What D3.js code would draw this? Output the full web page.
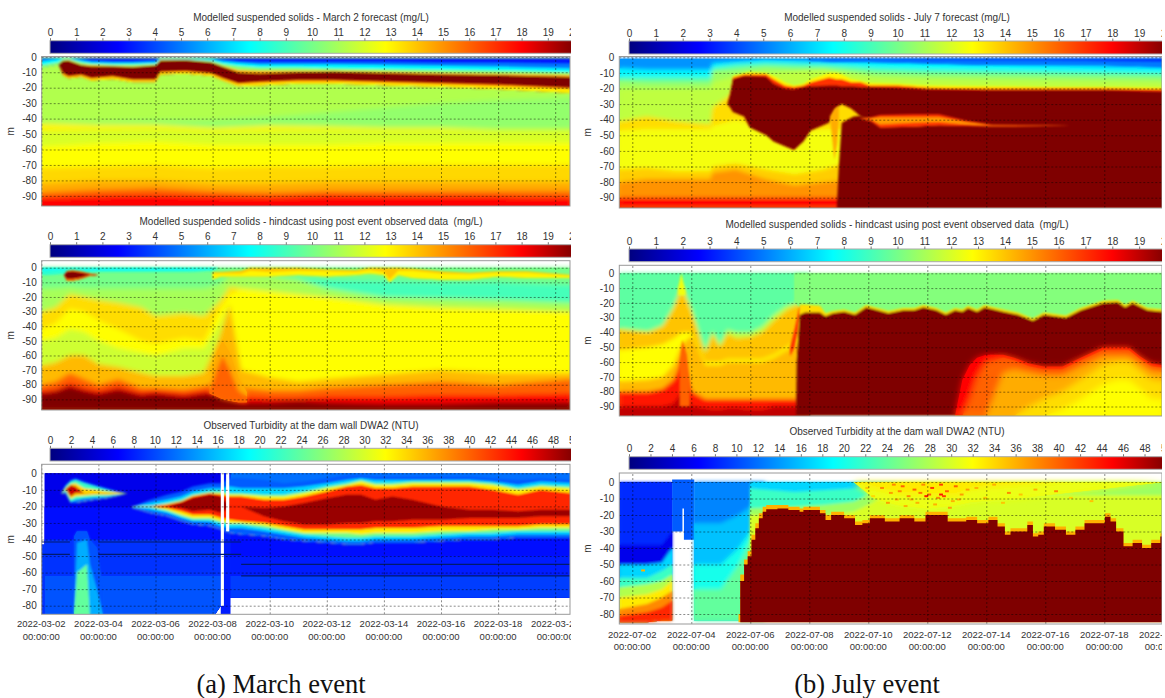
<!DOCTYPE html>
<html>
<head>
<meta charset="utf-8">
<script src="https://cdn.jsdelivr.net/npm/d3@7"></script>
<style>
  html, body { margin: 0; padding: 0; background: #fff; overflow: hidden; }
  svg { display: block; }
  text { font-family: "Liberation Sans", Arial, sans-serif; fill: #333; white-space: pre; }
  .caption { font-family: "Liberation Serif", "Times New Roman", serif; font-size: 26.5px; fill: #111; }
</style>
</head>
<body>
<svg></svg>
<script>
// all depths are metres below the surface, days count from the first tick of each event

let marchStart = "2022-03-02";
let julyStart = "2022-07-02";
let solidsTicks = d3.range(0, 21, 1);
let turbidityTicks = d3.range(0, 51, 2);
let depthTicksModel = [0, 10, 20, 30, 40, 50, 60, 70, 80, 90];
let depthTicksObserved = [0, 10, 20, 30, 40, 50, 60, 70, 80];
let dateTicks = [0, 2, 4, 6, 8, 10, 12, 14, 16, 18];

// ---- March forecast
let a1BodyDays = [0, 2, 4, 6, 8, 10, 12, 14, 16, 18.6];
let a1BodyLevels = [11.2, 10.6, 13, 12, 12.8, 13.6, 14.5, 16, 18];
let a1BodyEdges = [
  [1, 1, 1, 1, 1, 1, 1, 1, 1, 1],
  [42, 42, 41, 41, 39, 36, 33, 30, 28, 26],
  [43, 44, 44, 46, 44.5, 45, 46, 46, 47, 47],
  [48, 47, 46.5, 48, 47.5, 47, 47.5, 47.5, 47.5, 47.5],
  [58, 56, 55, 57, 57, 57, 56, 56, 56, 56],
  [72, 71, 70, 72, 71, 71, 70, 70, 70, 70],
  [82, 80, 80, 82, 82, 81, 81, 81, 81, 81],
  [88, 86, 85, 87, 88, 87, 87, 87, 87, 87],
  [91, 90, 89.5, 90.5, 91, 90, 90.5, 90.5, 90.5, 91],
  [96.5, 96.5, 96.5, 96.5, 96.5, 96.5, 96.5, 96.5, 96.5, 96.5]
];
let a1PlumeDays = [0, 0.6, 0.75, 0.95, 1.4, 1.75, 2.5, 3.2, 4, 4.17, 5.05, 5.95, 6.35, 6.9, 7.65, 8.95, 10.25, 12.2, 14.1, 16.1, 18.6];
let a1PlumeLevels = [3, 5, 7.5, 10.5, 14.5, 20, 16, 13];
let a1PlumeEdges = [
  [1, 1, 1, 1, 1, 1, 1, 1, 1, 1, 1, 1, 1, 1, 1, 1, 1, 1, 1, 1, 1],
  [1, 1, 1, 1, 1.5, 2.5, 3, 3, 2.5, 1, 1, 1.2, 2, 3, 3.5, 3.5, 3.5, 3.5, 4, 4, 4.5],
  [3, 1.5, 1, 1, 2.5, 3.5, 4, 4, 3.5, 1.2, 1.2, 1.6, 3, 4, 5, 5, 5, 5.5, 6, 6.5, 7.5],
  [5.5, 3.5, 1.5, 1.2, 3.5, 4.5, 5, 5, 4.5, 1.5, 1.5, 2.5, 4.5, 6, 7, 7, 7.5, 8, 8.5, 9, 10],
  [7, 5, 2.5, 2, 5, 5.5, 5.8, 6.3, 5.3, 2.2, 2, 3.3, 6, 8.5, 9, 9, 9, 9.7, 10.5, 11, 11.8],
  [7, 5, 2.7, 2.5, 5.5, 6.2, 6.2, 6.8, 5.7, 2.5, 2.3, 3.7, 6.5, 10.2, 10.8, 10, 9.6, 10.6, 11.5, 12, 13],
  [7, 5, 10.5, 12.5, 11.5, 13.5, 12.5, 14.5, 14.5, 9.5, 9, 10.5, 13.5, 17, 16, 15, 15, 16, 17, 18, 20],
  [7, 5, 11.2, 13.2, 12.2, 14.3, 13.3, 15.3, 15.3, 10.3, 9.8, 11.3, 14.3, 17.8, 17, 16, 16, 17, 18, 19, 21],
  [7, 5, 12, 14, 13, 15.5, 14.5, 16.5, 16.5, 11.5, 11, 12.5, 15.5, 19, 18.5, 17.5, 17.5, 18.5, 19.5, 21, 23.5]
];

// ---- March hindcast
let a2BodyDays = [0, 0.5, 1, 1.5, 2, 2.7, 3.5, 4, 5, 5.7, 6.2, 6.6, 7, 8, 9, 10, 12, 14, 16, 18.6];
let a2BodyLevels = [10, 9, 11, 13.5, 12.8, 11.8, 14.2, 16, 18, 20];
let a2BodyEdges = [
  [0, 0, 0, 0, 0, 0, 0, 0, 0, 0, 0, 0, 0, 0, 0, 0, 0, 0, 0, 0],
  [14, 14, 13, 14, 14, 14, 14, 14, 14, 14, 12, 5, 5, 6, 7, 8, 9, 10, 10, 12],
  [14, 14, 13, 14, 14, 14, 14, 14, 14, 14, 12, 5, 5, 6, 8, 14, 20, 21, 22, 24],
  [30, 27, 18, 20, 22, 24, 27, 33, 31, 33, 24, 13, 14, 16, 18, 20, 25, 27, 28, 30],
  [42, 38, 28, 30, 36, 42, 50, 52, 48, 50, 30, 18, 14.5, 16.5, 18.5, 20.5, 25.5, 27.5, 28.5, 30.5],
  [50, 48, 42, 44, 50, 55, 58, 60, 55, 55, 40, 25, 70, 75, 78, 76, 73, 70, 72, 72],
  [67, 65, 60, 60, 66, 68, 72, 74, 74, 72, 50, 25, 70, 75, 78, 76, 73, 70, 72, 72],
  [80, 78, 72, 76, 80, 76, 82, 82, 83, 81, 78, 74, 82, 84, 84, 82, 80, 78, 80, 76],
  [84, 83, 79, 82, 84, 81, 85, 84, 86, 84, 84, 84, 88, 89, 89, 88, 88, 87, 87, 86],
  [86, 84.5, 81, 84, 86, 83, 87, 86, 88, 86, 86, 88, 92, 92, 91, 92, 93, 93, 92, 92],
  [97, 97, 97, 97, 97, 97, 97, 97, 97, 97, 97, 97, 97, 97, 97, 97, 97, 97, 97, 97]
];
let a2SpikeDays = [5.9, 6.15, 6.35, 6.6, 6.9, 7.2];
let a2SpikeLevels = [14.5, 16];
let a2SpikeEdges = [
  [80, 58, 50, 58, 75, 85],
  [84, 70, 60, 70, 84, 88],
  [86, 88, 90, 91, 92, 92]
];
let a2BlobDays = [0.8, 0.9, 1.1, 1.4, 1.7, 2];
let a2BlobLevels = [14.5, 18, 20, 18, 14.5];
let a2BlobEdges = [
  [5, 2, 1.5, 2.5, 4, 5],
  [5, 2.5, 2, 3, 4.2, 5],
  [5, 3, 2.5, 3.5, 4.4, 5],
  [5, 7.5, 7.5, 6.5, 4.8, 5],
  [5, 8, 8, 7, 5, 5],
  [5, 9, 9, 7.5, 5.5, 5]
];
let a2SurfaceDays = [0, 1, 2, 3, 4, 5, 6, 6.2];
let a2SurfaceLevels = [7.5, 8.5];
let a2SurfaceEdges = [
  [0, 0, 0, 0, 0, 0, 0, 0],
  [2, 1, 1.5, 1.5, 1.5, 1.5, 1, 0],
  [5, 4, 3, 3, 3, 3, 2, 0]
];
let a2StreakDays = [6, 6.3, 7, 7.3, 8, 9, 10, 11, 11.5, 12, 12.2, 12.5, 13, 14, 15, 16, 17, 18.6];
let a2StreakLevels = [14, 13];
let a2StreakEdges = [
  [3, 3, 2, 0, 0, 0, 1, 1.5, 0, 0, 0, 0, 0.5, 2.5, 3.5, 2.5, 2.5, 5],
  [4, 4, 4, 2, 3, 2, 2.5, 3, 1.5, 3, 8, 2, 2, 4, 4.5, 3.5, 3.5, 5.5],
  [8, 6, 6, 6, 6, 5, 6, 5, 4, 5, 10, 5, 7, 8, 8, 6, 7, 7]
];

// ---- March observed
let a3BaseDays = [0.12, 6.09, 6.29];
let a3BaseLevels = [5.5, 7, 9, 10.5];
let a3BaseEdges = [[0, 0, 0], [20, 20, 20], [40, 40, 40], [62, 62, 62], [85, 85, 80]];
let a3EdgeDays = [0, 0.12];
let a3EdgeLevels = [9];
let a3EdgeEdges = [[43, 43], [85, 85]];
let a3LateDays = [6.58, 18.6];
let a3LateLevels = [12, 7, 8, 9.5];
let a3LateEdges = [[0, 0], [30, 30], [50, 50], [62, 62], [75, 75]];
let a3StripDays = [6.29, 6.62];
let a3StripLevels = [8];
let a3StripEdges = [[0, 0], [85, 85]];
let a3StreakDays = [1.15, 1.25, 1.6, 1.7, 1.95, 2.15];
let a3StreakLevels = [10.5, 15, 24];
let a3StreakEdges = [
  [38, 35, 35, 40, 45, 70],
  [85, 42, 40, 55, 70, 85],
  [85, 60, 55, 85, 85, 85],
  [85, 85, 85, 85, 85, 85]
];
let a3PlumeDays = [3.2, 3.8, 4.4, 4.9, 5.3, 5.9, 6.3, 6.6, 7, 7.8, 8.5, 9.2, 10, 10.7, 11.2, 11.7, 12.3, 13, 14, 15, 15.8, 16.7, 17.5, 18.6];
let a3PlumeLevels = [11, 17, 25, 33, 43, 49, 43, 33, 25, 17, 11];
let a3PlumeEdges = [
  [20, 16, 13, 11, 8, 6, 6, 3, 3, 4, 6, 5, 3, 1, 1, 2, 2, 2, 2, 2, 3, 4, 3, 4],
  [20, 18, 16, 14, 11, 9, 9, 8, 9, 9, 9, 8, 6, 4, 3, 4, 4, 4, 4, 4, 5, 7, 5, 6],
  [20, 20, 18, 16, 13, 11, 11, 12, 12, 13, 13, 11, 8, 6, 4, 6, 6, 5, 5, 5, 6, 9, 7, 8],
  [20, 20, 18.5, 17, 13.5, 12, 12, 13, 13, 14, 14, 12, 9, 7, 5, 7, 7, 6, 6, 6, 7, 10, 8, 9],
  [20, 20, 19, 17, 14, 12, 13, 14, 14, 16, 16, 14, 11, 8, 7, 9, 9, 8, 8, 8, 10, 13, 10, 12],
  [20, 20, 20, 18, 15, 13, 14, 20, 20, 21, 20, 18, 15, 13, 13, 16, 14, 16, 20, 22, 22, 23, 22, 22],
  [20, 20, 20, 21, 23, 22, 24, 20, 20, 26, 29, 31, 31, 30, 30, 29, 29, 28, 28, 27, 27, 27, 26, 26],
  [20, 20, 21, 23, 25, 25, 27, 28, 29, 30, 32, 34, 34, 34, 34, 33, 33, 33, 32, 32, 32, 32, 31, 31],
  [20, 20, 22, 25, 27, 27, 29, 30, 30, 31.5, 34, 36, 36, 36, 37, 36, 36, 36, 35, 35, 34, 34, 33, 33],
  [20, 20.5, 23, 26, 28, 28, 30, 31, 31, 33, 35, 37, 38, 39, 39, 38, 38, 38, 37, 36, 36, 35, 35, 35],
  [20.5, 22, 24, 27, 29, 29.5, 32, 33, 33, 35, 37, 39, 40, 41, 41, 40, 40, 40, 39, 38, 38, 37, 37, 37],
  [21, 24, 26, 29, 31, 32, 34, 36, 37, 38, 40, 41, 42, 43, 43, 42, 42, 42, 41, 40, 40, 39, 39, 39]
];
let a3BlobDays = [0.7, 0.85, 1.03, 1.2, 1.5, 1.9, 2.3, 2.7, 3];
let a3BlobLevels = [12, 22, 34, 47, 34, 22, 12];
let a3BlobEdges = [
  [12, 7, 4, 3, 5, 7, 9, 11, 12],
  [12, 8, 5, 4, 6, 8, 10, 11.5, 12],
  [12, 9, 6.5, 6, 9, 10, 11, 11.5, 12],
  [12, 9.5, 7, 8, 12, 12, 12, 12, 12],
  [12, 9.5, 14, 12, 12, 12, 12, 12, 12],
  [12, 10, 15.5, 14, 13.5, 13, 13, 12.5, 12],
  [12, 11, 17, 16, 15, 14.5, 14, 13, 12],
  [12, 12, 18, 18, 17, 16, 15, 13.5, 12]
];
let a3GapOneDays = [6.29, 6.39];
let a3GapOneEdges = [[0, 0], [80, 80]];
let a3GapTwoDays = [6.48, 6.58];
let a3GapTwoEdges = [[0, 0], [35, 35]];
let a3SensorDepths = [41.5, 41.5, 49, 49, 55, 62];
let a3SensorFrom = [0, 2, 0, 2, 7, 7];
let a3SensorTo = [1, 7, 1, 7, 18.6, 18.6];

// ---- July forecast
let b1BodyDays = [-0.44, 0.5, 1.5, 2.65, 2.72, 3.5, 4.5, 5.5, 6.5, 7.6, 8.2, 10, 14, 18];
let b1BodyLevels = [5.5, 7.5, 9.5, 10.8, 11.5, 13.5, 12.6, 13.8, 15, 18];
let b1BodyEdges = [
  [1, 1, 1, 1, 1, 1, 1, 1, 1, 1, 1, 1, 1, 1],
  [7, 8, 8, 8, 4, 3, 2, 2.5, 3, 3, 3, 3, 5, 6.5],
  [13, 13, 13, 13, 7, 5, 4, 4.5, 5, 6, 7, 8, 9, 10],
  [15, 16, 16, 16, 9, 8, 6, 7, 7, 9, 10, 11, 12, 13],
  [20, 20, 20, 20, 16, 12, 10, 9, 8, 11, 13, 14, 15, 16],
  [41, 38, 41, 43, 32, 22, 22, 22, 22, 22, 22, 22, 22, 22],
  [47, 46, 46, 46, 44, 40, 45, 48, 46, 46, 46, 46, 46, 46],
  [72, 71, 73, 73, 70, 68, 72, 75, 72, 65, 65, 65, 65, 65],
  [80, 78, 78, 78, 74, 72, 78, 82, 80, 78, 78, 78, 78, 78],
  [90, 90, 90, 90, 90, 90, 90, 90, 90, 90, 90, 90, 90, 90],
  [96.8, 96.8, 96.8, 96.8, 96.8, 96.8, 96.8, 96.8, 96.8, 96.8, 96.8, 96.8, 96.8, 96.8]
];
let b1TopDays = [6, 7, 8, 10, 12, 14, 16, 18];
let b1TopLevels = [3.5, 5];
let b1TopEdges = [
  [1, 1, 1, 1, 1, 1, 1, 1],
  [1, 1.5, 1.5, 2, 2, 2, 2.5, 3],
  [2, 3, 3, 4, 5, 5, 5, 6]
];
let b1PlumeDays = [3.22, 3.31, 3.41, 3.79, 3.98, 4.54, 4.79, 5.17, 5.48, 5.8, 6.05, 6.67, 6.93, 7.1, 7.43, 7.74, 8.05, 9, 10, 12, 14, 16, 18];
let b1PlumeLevels = [13, 17, 20];
let b1PlumeEdges = [
  [30, 23, 12, 10, 9.5, 10, 12, 16, 18, 17, 14, 10, 10, 11, 14, 15, 16.5, 17, 18, 18.5, 19, 19, 19.5],
  [30, 23, 13, 11, 11, 11, 14, 18, 19, 18, 16, 13, 14, 14, 16, 16, 18, 18, 19.5, 20, 20, 20, 20.5],
  [30, 24, 14, 12, 12, 12.5, 17, 20, 20.5, 19, 18.5, 18, 18, 18.5, 18.5, 19, 19, 19.5, 20.5, 21, 21, 21, 22],
  [30, 32, 35, 38, 45, 50, 54, 57, 59.5, 54, 47, 42, 32, 30, 33, 38, 39.5, 39.5, 39.5, 39.5, 39.5, 39.5, 39.5]
];
let b1ArcDays = [6.7, 6.85, 6.95, 7];
let b1ArcLevels = [14.5];
let b1ArcEdges = [[38, 33, 32, 32], [38, 66, 55, 40]];
let b1BlockDays = [6.93, 7, 7.1, 7.5, 8, 18];
let b1BlockLevels = [20];
let b1BlockEdges = [[96.8, 70, 42, 38, 37, 37], [96.8, 96.8, 96.8, 96.8, 96.8, 96.8]];
let b1LensDays = [7.7, 8.1, 8.4, 9.5, 10.4, 11.3, 12.2, 14, 14.85];
let b1LensLevels = [17, 14.8, 17];
let b1LensEdges = [
  [39, 38.5, 37, 36.5, 36.5, 40.5, 43.3, 43.5, 44],
  [39, 39, 38.5, 38.5, 38.5, 41.5, 43.6, 43.7, 44],
  [39, 40, 43, 42, 41.5, 43, 43.9, 43.9, 44],
  [39, 41, 45, 44.5, 43.5, 44, 44.2, 44.1, 44]
];

// ---- July hindcast
let b2BodyDays = [-0.44, 0.53, 1.03, 1.4, 1.68, 2.03, 2.47, 2.72, 2.97, 3.22, 3.54, 4, 4.4, 4.8, 5.23, 5.6, 6];
let b2BodyLevels = [9.5, 11.5, 14, 12.8, 14.2, 17.5, 19];
let b2BodyEdges = [
  [0, 0, 0, 0, 0, 0, 0, 0, 0, 0, 0, 0, 0, 0, 0, 0, 0],
  [37, 39, 35, 22, 8, 25, 52, 39, 48, 38, 40, 40, 36, 28, 22, 20, 19],
  [38, 40, 36, 24, 9, 28, 54, 41, 50, 41, 44, 43, 40, 32, 25, 21, 20],
  [52, 50, 48, 44, 40, 40, 60, 60, 60, 58, 58, 58, 58, 55, 50, 45, 40],
  [73, 72, 70, 62, 48, 42, 62, 62, 62, 60, 60, 60, 60, 57, 52, 47, 42],
  [80, 80, 78, 72, 58, 80, 85, 85, 85, 85, 85, 85, 85, 85, 85, 85, 85],
  [90, 90, 90, 88, 80, 90, 91, 92, 92, 91, 91, 92, 92, 90, 90, 90, 90],
  [96.3, 96.3, 96.3, 96.3, 96.3, 96.3, 96.3, 96.3, 96.3, 96.3, 96.3, 96.3, 96.3, 96.3, 96.3, 96.3, 96.3]
];
let b2SpikeDays = [1.6, 1.7, 1.85, 1.95];
let b2SpikeLevels = [16];
let b2SpikeEdges = [[60, 45, 55, 75], [90, 90, 90, 90]];
let b2NeedleDays = [1.55, 1.66, 1.8];
let b2NeedleLevels = [12.5];
let b2NeedleEdges = [[10, 0, 12], [15, 15, 15]];
let b2TopDays = [5.5, 6, 18];
let b2TopLevels = [10.3];
let b2TopEdges = [[0, 0, 0], [19, 30, 40]];
let b2RedDays = [5.35, 5.5, 5.65, 5.75];
let b2RedLevels = [17];
let b2RedEdges = [[50, 38, 24, 22], [56, 50, 35, 24]];
let b2PlumeDays = [5.55, 5.57, 5.67, 5.86, 6.36, 6.55, 6.8, 7.18, 7.55, 7.93, 8.31, 8.68, 9.18, 9.56, 9.87, 10.31, 10.63, 10.94, 11.19, 11.38, 11.69, 11.94, 12.57, 13.07, 13.58, 13.95, 14.7, 15.2, 15.96, 16.46, 16.71, 16.96, 17.47, 18];
let b2PlumeLevels = [13.5, 20];
let b2PlumeEdges = [
  [96, 58, 21, 21, 22, 27, 25.5, 24.5, 26.5, 21.5, 23.5, 25.5, 23.5, 23.5, 21.5, 23.5, 26.5, 23.5, 24.5, 22, 24.5, 21.5, 24.5, 26.5, 30.5, 26.5, 28.5, 23.5, 18.5, 18, 21.5, 18.5, 23.5, 24.5],
  [96, 60, 28, 26.5, 26.5, 29, 27, 26, 28, 23, 25, 27, 25, 25, 23, 25, 28, 25, 26, 23.5, 26, 23, 26, 28, 32, 28, 30, 25, 20, 19.5, 23, 20, 25, 26],
  [96.3, 96.3, 96.3, 96.3, 96.3, 96.3, 96.3, 96.3, 96.3, 96.3, 96.3, 96.3, 96.3, 96.3, 96.3, 96.3, 96.3, 96.3, 96.3, 96.3, 96.3, 96.3, 96.3, 96.3, 96.3, 96.3, 96.3, 96.3, 96.3, 96.3, 96.3, 96.3, 96.3, 96.3]
];
let b2LowerDays = [10.94, 11.19, 11.44, 11.69, 12, 12.57, 12.95, 13.45, 13.95, 14.58, 15.2, 15.96, 16.46, 16.83, 17.21, 17.59, 18];
let b2LowerLevels = [18, 16, 14.5, 13.5, 12.8];
let b2LowerEdges = [
  [96, 72, 62, 57, 55, 55, 57, 61, 63, 63, 57, 50, 50, 50, 56, 61, 62],
  [96, 96, 85, 70, 60, 57, 59, 63, 65, 65, 59, 52, 52, 52, 58, 63, 64],
  [96, 96, 96, 96, 96, 67, 65, 67, 69, 69, 63, 56, 56, 56, 61, 66, 67],
  [96, 96, 96, 96, 96, 96, 96, 90, 85, 80, 72, 62, 60, 60, 66, 72, 73],
  [96, 96, 96, 96, 96, 96, 96, 96, 96, 92, 85, 75, 72, 72, 78, 85, 85],
  [96.3, 96.3, 96.3, 96.3, 96.3, 96.3, 96.3, 96.3, 96.3, 96.3, 96.3, 96.3, 96.3, 96.3, 96.3, 96.3, 96.3]
];

// ---- July observed
let b3LeftDays = [-0.44, 0.5, 1, 1.35];
let b3LeftLevels = [8.5, 5.5, 17, 22, 28, 33, 38, 43];
let b3LeftEdges = [
  [0, 0, 0, 0],
  [38, 38, 38, 30],
  [50, 50, 49, 40],
  [58, 58, 54, 50],
  [64, 62, 60, 56],
  [70, 68, 65, 60],
  [77, 74, 70, 66],
  [81, 79, 76, 72],
  [85, 85, 84, 84]
];
let b3ColumnDays = [1.35, 1.7, 1.75, 2.1];
let b3ColumnLevels = [11];
let b3ColumnEdges = [[-1.5, -1.5, -1.5, -1.5], [30, 16, 35, 35]];
let b3MiddleDays = [2.1, 3, 3.6, 4, 4.5];
let b3MiddleLevels = [13, 16, 20, 24];
let b3MiddleEdges = [
  [0, 0, 0, 0, 0],
  [25, 25, 20, 15, 10],
  [50, 50, 40, 30, 18],
  [65, 65, 50, 35, 20],
  [84, 84, 84, 84, 84]
];
let b3UpperDays = [4, 5.5, 6.5, 7.5, 8.2, 9, 11, 12, 13, 15, 16, 18];
let b3UpperLevels = [17, 22, 27, 30];
let b3UpperEdges = [
  [0, 0, 0, 0, 0, 0, 0, 0, 0, 0, 0, 0],
  [4, 6, 5, 4, 2, 0, 0, 0, 0, 0, 0, 0],
  [16, 15, 14, 12, 6, 0, 0, 0, 0, 0, 0, 0],
  [20, 20, 20, 18, 12, 4, 4, 6, 8, 8, 8, 8],
  [60, 60, 60, 60, 60, 60, 60, 60, 60, 60, 60, 60]
];
let b3YellowDays = [7.5, 8.2, 9, 10, 11, 11.5, 13, 15, 18];
let b3YellowLevels = [33, 31];
let b3YellowEdges = [
  [0, 0, 0, 0, 0, 0, 0, 0, 0],
  [0, 4, 7, 8, 8, 4, 2, 0, 0],
  [0, 10, 14, 16, 14, 12, 10, 6, 0]
];
let b3PlumeDays = [3.6, 3.66, 3.79, 3.91, 4.04, 4.17, 4.29, 4.42, 4.54, 4.92, 5.29, 5.67, 5.8, 6.17, 6.36, 6.55, 6.74, 7.18, 7.55, 7.8, 8.05, 8.56, 9.06, 9.56, 9.94, 10.31, 10.69, 11.32, 11.69, 12.07, 12.38, 12.63, 12.82, 13.39, 13.58, 13.76, 13.95, 14.33, 14.7, 15.02, 15.33, 16.02, 16.21, 16.4, 16.65, 16.96, 17.28, 17.59, 17.9, 18];
let b3PlumeLevels = [36, 50];
let b3PlumeEdges = [
  [80, 56, 47, 42, 32, 25, 19, 15, 14, 14, 15, 16, 15, 15, 17, 20, 18, 20, 24, 23, 20, 22, 20, 22, 18, 18, 22, 21, 23, 21, 25, 30, 28, 24, 31, 30, 25, 27, 30, 27, 23, 19, 22, 28, 37, 35, 38, 35, 31, 31],
  [85, 60, 50, 45, 35, 28, 22, 18, 16.5, 16, 17, 18, 17, 17, 19, 23, 20, 22, 26, 25, 22, 24, 22, 24, 20, 20, 24, 23, 25, 23, 27, 32, 30, 26, 33, 32, 27, 29, 32, 29, 25, 21, 24, 30, 39, 37, 40, 37, 33, 33],
  [85, 85, 85, 85, 85, 85, 85, 85, 85, 85, 85, 85, 85, 85, 85, 85, 85, 85, 85, 85, 85, 85, 85, 85, 85, 85, 85, 85, 85, 85, 85, 85, 85, 85, 85, 85, 85, 85, 85, 85, 85, 85, 85, 85, 85, 85, 85, 85, 85, 85]
];
let b3SpeckDays = [8.4, 8.7, 8.9, 9.1, 9.3, 9.5, 9.6, 9.8, 10, 10.1, 10.3, 10.4, 10.6, 10.8, 10.9, 11.1, 11.3, 8.6, 9.2, 9.7, 10.2, 10.5, 10.7, 9, 9.4, 9.9, 11, 12.7, 14.3, 0.3, 8.8, 10.4, 11.6, 11.9, 12.2, 12.5, 13.1, 13.6, 14.8, 15.5, 7.9, 8.1];
let b3SpeckDepths = [3, 6, 10, 2, 8, 4, 12, 1, 7, 3, 9, 1, 5, 11, 2, 7, 4, 12, 14, 6, 13, 8, 15, 5, 10, 8, 10, 6, 5, 53, 1, 7, 3, 9, 1, 12, 7, 4, 9, 11, 3, 8];
let b3SpeckLevels = [38, 37, 36, 40, 38, 40, 36, 38, 40, 42, 38, 42, 40, 36, 40, 37, 37, 37, 36, 39, 36, 42, 37, 38, 36, 44, 36, 38, 38, 36, 38, 44, 36, 35, 36, 35, 35, 36, 34, 35, 35, 34];

// ---- layout of the six panels
let aX = { left: 41.7, right: 570, day0: 41.3, dayW: 28.55, barX0: 50, column: "left", titleX: 311 };
let bX = { left: 619.3, right: 1162, day0: 632.3, dayW: 29.5, barX0: 629, column: "right", titleX: 897 };

let panels = [
  { ...aX, title: "Modelled suspended solids - March 2 forecast (mg/L)", start: marchStart, titleY: 17,
    barTop: 40.7, barBottom: 53.3, barUnit: 26.2,
    y0: 56.8, perTen: 15.45, top: 56.5, bottom: 206, ticks: solidsTicks, max: 20, depths: depthTicksModel, blur: 0.9,
    groups: [
      { days: a1BodyDays, levels: a1BodyLevels, edges: a1BodyEdges, soft: 2.8 },
      { days: a1PlumeDays, levels: a1PlumeLevels, edges: a1PlumeEdges }
    ] },
  { ...aX, title: "Modelled suspended solids - hindcast using post event observed data  (mg/L)", start: marchStart, titleY: 221,
    barTop: 244.7, barBottom: 257.3, barUnit: 26.2,
    y0: 267.7, perTen: 14.63, top: 260.7, bottom: 410, ticks: solidsTicks, max: 20, depths: depthTicksModel, blur: 0.9,
    groups: [
      { days: a2BodyDays, levels: a2BodyLevels, edges: a2BodyEdges, soft: 2.4 },
      { days: a2SpikeDays, levels: a2SpikeLevels, edges: a2SpikeEdges, soft: 2 },
      { days: a2SurfaceDays, levels: a2SurfaceLevels, edges: a2SurfaceEdges },
      { days: a2StreakDays, levels: a2StreakLevels, edges: a2StreakEdges },
      { days: a2BlobDays, levels: a2BlobLevels, edges: a2BlobEdges }
    ] },
  { ...aX, title: "Observed Turbidity at the dam wall DWA2 (NTU)", start: marchStart, titleY: 425,
    barTop: 448.3, barBottom: 461, barUnit: 10.48,
    y0: 473.3, perTen: 16.55, top: 464.3, bottom: 614.3, ticks: turbidityTicks, max: 50, depths: depthTicksObserved, blur: 0.9,
    dateY: 624, dateY2: 636.7,
    groups: [
      { days: a3BaseDays, levels: a3BaseLevels, edges: a3BaseEdges, soft: 0.2 },
      { days: a3EdgeDays, levels: a3EdgeLevels, edges: a3EdgeEdges, soft: 0.2 },
      { days: a3LateDays, levels: a3LateLevels, edges: a3LateEdges, soft: 0.2 },
      { days: a3StripDays, levels: a3StripLevels, edges: a3StripEdges, soft: 0.2 },
      { days: a3StreakDays, levels: a3StreakLevels, edges: a3StreakEdges, soft: 1.2 },
      { days: a3PlumeDays, levels: a3PlumeLevels, edges: a3PlumeEdges },
      { days: a3BlobDays, levels: a3BlobLevels, edges: a3BlobEdges },
      { days: a3GapOneDays, levels: [null], edges: a3GapOneEdges, soft: 0.2 },
      { days: a3GapTwoDays, levels: [null], edges: a3GapTwoEdges, soft: 0.2 }
    ],
    sensors: { depths: a3SensorDepths, from: a3SensorFrom, to: a3SensorTo } },
  { ...bX, title: "Modelled suspended solids - July 7 forecast (mg/L)", start: julyStart, titleY: 17,
    barTop: 41, barBottom: 54, barUnit: 26.85,
    y0: 57.3, perTen: 15.6, top: 56.5, bottom: 208, ticks: solidsTicks, max: 20, depths: depthTicksModel, blur: 0.9,
    groups: [
      { days: b1BodyDays, levels: b1BodyLevels, edges: b1BodyEdges, soft: 2 },
      { days: b1TopDays, levels: b1TopLevels, edges: b1TopEdges },
      { days: b1PlumeDays, levels: b1PlumeLevels, edges: b1PlumeEdges },
      { days: b1ArcDays, levels: b1ArcLevels, edges: b1ArcEdges },
      { days: b1BlockDays, levels: b1BlockLevels, edges: b1BlockEdges },
      { days: b1LensDays, levels: b1LensLevels, edges: b1LensEdges }
    ] },
  { ...bX, title: "Modelled suspended solids - hindcast using post event observed data  (mg/L)", start: julyStart, titleY: 224.3,
    barTop: 249, barBottom: 261.7, barUnit: 26.85,
    y0: 273.3, perTen: 14.8, top: 265.3, bottom: 416, ticks: solidsTicks, max: 20, depths: depthTicksModel, blur: 0.9,
    groups: [
      { days: b2BodyDays, levels: b2BodyLevels, edges: b2BodyEdges, soft: 2 },
      { days: b2SpikeDays, levels: b2SpikeLevels, edges: b2SpikeEdges },
      { days: b2NeedleDays, levels: b2NeedleLevels, edges: b2NeedleEdges },
      { days: b2TopDays, levels: b2TopLevels, edges: b2TopEdges, soft: 1.5 },
      { days: b2RedDays, levels: b2RedLevels, edges: b2RedEdges },
      { days: b2PlumeDays, levels: b2PlumeLevels, edges: b2PlumeEdges },
      { days: b2LowerDays, levels: b2LowerLevels, edges: b2LowerEdges, soft: 3.2 }
    ] },
  { ...bX, title: "Observed Turbidity at the dam wall DWA2 (NTU)", start: julyStart, titleY: 431.7,
    barTop: 456.7, barBottom: 469.3, barUnit: 10.74,
    y0: 482, perTen: 16.5, top: 473, bottom: 624, ticks: turbidityTicks, max: 50, depths: depthTicksObserved, blur: 0.5,
    dateY: 635, dateY2: 647,
    groups: [
      { days: b3LeftDays, levels: b3LeftLevels, edges: b3LeftEdges, soft: 1.5 },
      { days: b3ColumnDays, levels: b3ColumnLevels, edges: b3ColumnEdges, step: true },
      { days: b3MiddleDays, levels: b3MiddleLevels, edges: b3MiddleEdges, soft: 2 },
      { days: b3UpperDays, levels: b3UpperLevels, edges: b3UpperEdges, soft: 1.5 },
      { days: b3YellowDays, levels: b3YellowLevels, edges: b3YellowEdges, soft: 3 }
    ],
    specks: { days: b3SpeckDays, depths: b3SpeckDepths, levels: b3SpeckLevels },
    over: [
      { days: b3PlumeDays, levels: b3PlumeLevels, edges: b3PlumeEdges, step: true }
    ] }
];

let width = 1165;
let height = 698;

let svg = d3.select("svg")
            .attr("width", width)
            .attr("height", height);

let defs = svg.append("defs");

// the colour ramp of the colour bars, 0 to 1 of the bar's full range
let ramp = d3.scaleLinear()
             .domain([0, 0.13, 0.38, 0.64, 0.9, 1])
             .range(["#00007f", "#0000ff", "#00ffff", "#ffff00", "#ff0000", "#7f0000"]);

defs.append("clipPath").attr("id", "leftColumn")
    .append("rect").attr("width", 571).attr("height", height);
defs.append("clipPath").attr("id", "rightColumn")
    .append("rect").attr("x", 575).attr("width", 1162 - 575).attr("height", height);

let rampGradient = defs.append("linearGradient").attr("id", "rampGradient");
rampGradient.selectAll("stop")
    .data(ramp.domain())
    .join("stop")
    .attr("offset", d => d * 100 + "%")
    .attr("stop-color", d => ramp(d));

let blurIds = new Map();
function blurFilter(amount) {
    if (!blurIds.has(amount)) {
        let id = "blur" + blurIds.size;
        blurIds.set(amount, id);
        defs.append("filter").attr("id", id)
            .attr("filterUnits", "userSpaceOnUse")
            .attr("x", 0).attr("y", 0).attr("width", width).attr("height", height)
            .append("feGaussianBlur").attr("stdDeviation", amount);
    }
    return "url(#" + blurIds.get(amount) + ")";
}

function paintBands(target, group, x, y, colour) {
    let last = group.edges[group.edges.length - 1];
    target.selectAll("path")
        .data(group.levels)
        .join("path")
        .attr("fill", d => d === null ? "#fff" : colour(d))
        .attr("d", (d, k) => d3.area()
            .curve(group.step ? d3.curveStepAfter : d3.curveLinear)
            .x(day => x(day))
            .y0((day, i) => y(group.edges[k][i]))
            .y1((day, i) => y(last[i]))(group.days));
}

function drawGroup(target, group, x, y, colour, blur) {
    // a sharp copy under a soft one, so the blur does not fade at the plot edges
    if (group.soft) paintBands(target.append("g"), group, x, y, colour);
    let soft = target.append("g").attr("filter", blurFilter(group.soft || blur));
    paintBands(soft, group, x, y, colour);
}

panels.forEach((p, n) => {
    let root = svg.append("g").attr("clip-path", "url(#" + p.column + "Column)");

    let startMs = Date.parse(p.start + "T00:00:00Z");
    let dayMs = 86400000;
    let timeScale = d3.scaleUtc()
        .domain([new Date(startMs), new Date(startMs + dayMs)])
        .range([p.day0, p.day0 + p.dayW]);
    let x = day => timeScale(new Date(startMs + day * dayMs));

    let depths = p.depths;
    let yScale = d3.scaleLinear()
        .domain([0, depths[depths.length - 1]])
        .range([p.y0, p.y0 + (depths.length - 1) * p.perTen]);

    let valueScale = d3.scaleLinear().domain([0, p.max]).range([0, 1]);
    let colour = v => ramp(valueScale(v));

    root.append("text")
        .attr("x", p.titleX)
        .attr("y", p.titleY + 3.5)
        .style("text-anchor", "middle")
        .style("font-size", "10px")
        .text(p.title);

    // colour bar
    let barScale = d3.scaleLinear()
        .domain([0, p.max])
        .range([p.barX0, p.barX0 + p.max * p.barUnit]);

    root.append("rect")
        .attr("x", barScale(0))
        .attr("y", p.barTop)
        .attr("width", barScale(p.max) - barScale(0))
        .attr("height", p.barBottom - p.barTop)
        .attr("fill", "url(#rampGradient)")
        .attr("stroke", "#aaa");

    let barAxis = root.append("g")
        .attr("transform", "translate(0," + p.barTop + ")")
        .call(d3.axisTop(barScale).tickValues(p.ticks).tickSize(2.5).tickPadding(2).tickSizeOuter(0));
    barAxis.select(".domain").remove();
    barAxis.selectAll("text").style("font-size", "10px");
    barAxis.selectAll("line").attr("stroke", "#777");

    // the heat bands, clipped to the plot
    let clipId = "plot" + n;
    defs.append("clipPath").attr("id", clipId)
        .append("rect")
        .attr("x", p.left)
        .attr("y", p.top)
        .attr("width", p.right - p.left)
        .attr("height", p.bottom - p.top);

    let clipped = root.append("g").attr("clip-path", "url(#" + clipId + ")");

    p.groups.forEach(group => drawGroup(clipped, group, x, yScale, colour, p.blur));

    if (p.specks) {
        clipped.append("g")
            .attr("filter", blurFilter(p.blur))
            .selectAll("rect")
            .data(p.specks.days)
            .join("rect")
            .attr("x", d => x(d))
            .attr("y", (d, i) => yScale(p.specks.depths[i]))
            .attr("width", x(0.13) - x(0))
            .attr("height", yScale(1.2) - yScale(0))
            .attr("fill", (d, i) => colour(p.specks.levels[i]));
    }
    if (p.over) p.over.forEach(group => drawGroup(clipped, group, x, yScale, colour, p.blur));

    if (p.sensors) {
        clipped.append("g")
            .selectAll("line")
            .data(p.sensors.depths)
            .join("line")
            .attr("x1", (d, i) => x(p.sensors.from[i]))
            .attr("x2", (d, i) => x(p.sensors.to[i]))
            .attr("y1", d => yScale(d))
            .attr("y2", d => yScale(d))
            .attr("stroke", "#001a6e")
            .attr("stroke-width", 1.2);
    }

    // axes with their dotted grid
    let dateValues = dateTicks.map(d => new Date(startMs + d * dayMs));
    let xAxis = d3.axisBottom(timeScale)
        .tickValues(dateValues)
        .tickSize(-(p.bottom - p.top))
        .tickSizeOuter(0)
        .tickFormat("");
    let yAxis = d3.axisLeft(yScale)
        .tickValues(depths)
        .tickSize(-(p.right - p.left))
        .tickSizeOuter(0)
        .tickPadding(5)
        .tickFormat(d => d === 0 ? "0" : "-" + d);

    let xGrid = root.append("g")
        .attr("transform", "translate(0," + p.bottom + ")")
        .call(xAxis);
    xGrid.select(".domain").remove();
    let yGrid = root.append("g")
        .attr("transform", "translate(" + p.left + ",0)")
        .call(yAxis);
    yGrid.select(".domain").remove();
    yGrid.selectAll("text").style("font-size", "10px");

    root.selectAll(".tick line")
        .filter(function () { return this.parentNode.parentNode !== barAxis.node(); })
        .attr("stroke", "#000")
        .attr("stroke-opacity", 0.65)
        .attr("stroke-width", 0.7)
        .attr("stroke-dasharray", "2,2");

    root.append("rect")
        .attr("x", p.left)
        .attr("y", p.top)
        .attr("width", p.right - p.left)
        .attr("height", p.bottom - p.top)
        .attr("fill", "none")
        .attr("stroke", "#999");

    root.append("text")
        .attr("transform", "translate(" + (p.left - 28) + "," + (p.top + p.bottom) / 2 + ") rotate(-90)")
        .style("text-anchor", "middle")
        .style("font-size", "10px")
        .text("m");

    if (p.dateY) {
        let fmtDay = d3.utcFormat("%Y-%m-%d");
        let fmtTime = d3.utcFormat("%H:%M:%S");
        root.append("g")
            .selectAll("text")
            .data(dateValues)
            .join("text")
            .attr("x", d => timeScale(d))
            .attr("y", p.dateY + 3)
            .style("text-anchor", "middle")
            .style("font-size", "9.5px")
            .text(d => fmtDay(d));
        root.append("g")
            .selectAll("text")
            .data(dateValues)
            .join("text")
            .attr("x", d => timeScale(d))
            .attr("y", p.dateY2 + 3)
            .style("text-anchor", "middle")
            .style("font-size", "9.5px")
            .text(d => fmtTime(d));
    }
});

svg.append("text")
    .attr("class", "caption")
    .attr("x", 281)
    .attr("y", 693)
    .style("text-anchor", "middle")
    .text("(a) March event");

svg.append("text")
    .attr("class", "caption")
    .attr("x", 867)
    .attr("y", 693)
    .style("text-anchor", "middle")
    .text("(b) July event");
</script>
</body>
</html>
